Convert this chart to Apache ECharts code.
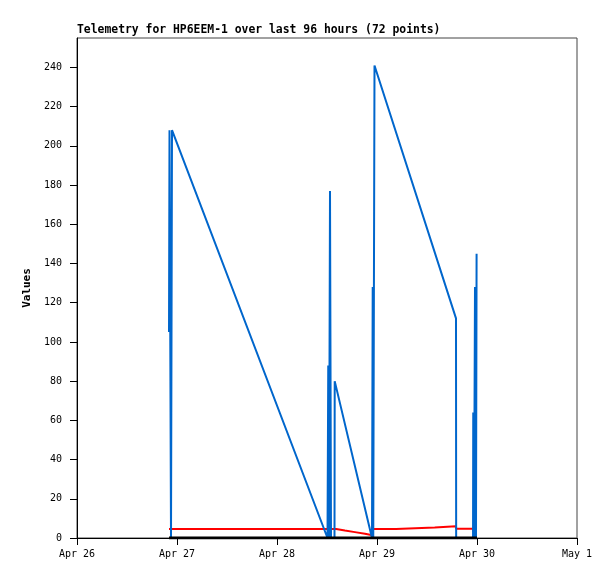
<!DOCTYPE html>
<html>
<head>
<meta charset="utf-8">
<style>
  html, body { margin: 0; padding: 0; background: #fff; }
  #chart { width: 615px; height: 579px; }
</style>
<script src="https://cdn.jsdelivr.net/npm/echarts@6/dist/echarts.min.js"></script>
</head>
<body>
<div id="chart"></div>
<script>
// hours since Apr 26 00:00
const blueHours = [22.08, 22.2, 22.56, 22.8, 60.12, 60.3, 60.48, 60.72, 60.96, 61.8, 61.85,
  70.8, 70.97, 71.1, 71.4, 90.96, 91.0, 95.05, 95.1, 95.28, 95.52, 95.76, 95.9];
const blueValues = [105, 208, 0, 208, 0, 88, 0, 177, 0, 0, 80,
  0, 128, 0, 241, 112, 0, 0, 64, 0, 128, 0, 145];

const redHours = [22.08, 62.2, 64.3, 66.7, 69.1, 70.6, 70.8, 76.55, 76.6, 85.85, 85.9,
  90.95, 91.0, 95.05, 95.1, 95.9];
const redValues = [4.6, 4.6, 3.8, 3.0, 2.2, 1.5, 4.6, 4.6, 5.3, 5.3, 6.0,
  6.0, 4.7, 4.7, 3.2, 3.2];

const blackHours = [22.08, 96];
const blackValues = [0, 0];

const dayLabels = ["Apr 26", "Apr 27", "Apr 28", "Apr 29", "Apr 30", "May 1"];
const yTicks = [0, 20, 40, 60, 80, 100, 120, 140, 160, 180, 200, 220, 240];

function pairs(xs, ys) {
  return xs.map(function (x, i) { return [x, ys[i]]; });
}

const font = "DejaVu Sans Mono";

let myChart = echarts.init(document.getElementById("chart"));
let option = {
  animation: false,
  title: {
    text: "Telemetry for HP6EEM-1 over last 96 hours (72 points)",
    left: 77,
    top: 25,
    padding: 0,
    textStyle: { fontFamily: font, fontSize: 11.4, fontWeight: "bold", color: "#000" },
  },
  grid: {
    left: 77,
    right: 38,
    top: 38,
    bottom: 41,
    show: true,
    borderColor: "#444",
    borderWidth: 1,
  },
  xAxis: {
    type: "value",
    min: 0,
    max: 120,
    interval: 24,
    splitLine: { show: false },
    axisLine: { lineStyle: { color: "#000", width: 1 } },
    axisTick: { length: 7, lineStyle: { color: "#000" } },
    axisLabel: {
      margin: 11,
      fontFamily: font,
      fontSize: 10,
      color: "#000",
      formatter: function (v) { return dayLabels[Math.round(v / 24)]; },
    },
  },
  yAxis: {
    type: "value",
    min: 0,
    max: 255,
    name: "Values",
    nameLocation: "middle",
    nameGap: 40,
    nameTextStyle: { fontFamily: font, fontSize: 11, fontWeight: "bold", color: "#000" },
    splitLine: { show: false },
    axisLine: { lineStyle: { color: "#000", width: 1 } },
    axisTick: { length: 7, customValues: yTicks, lineStyle: { color: "#000" } },
    axisLabel: {
      margin: 15,
      fontFamily: font,
      fontSize: 10,
      color: "#000",
      customValues: yTicks,
    },
  },
  series: [
    {
      name: "red",
      type: "line",
      data: pairs(redHours, redValues),
      showSymbol: false,
      lineStyle: { color: "#ff0000", width: 2 },
      z: 2,
    },
    {
      name: "blue",
      type: "line",
      data: pairs(blueHours, blueValues),
      showSymbol: false,
      lineStyle: { color: "#0066cc", width: 2 },
      z: 3,
    },
    {
      name: "black",
      type: "line",
      data: pairs(blackHours, blackValues),
      showSymbol: false,
      lineStyle: { color: "#000", width: 3 },
      z: 4,
    },
  ],
};
myChart.setOption(option);
</script>
</body>
</html>
